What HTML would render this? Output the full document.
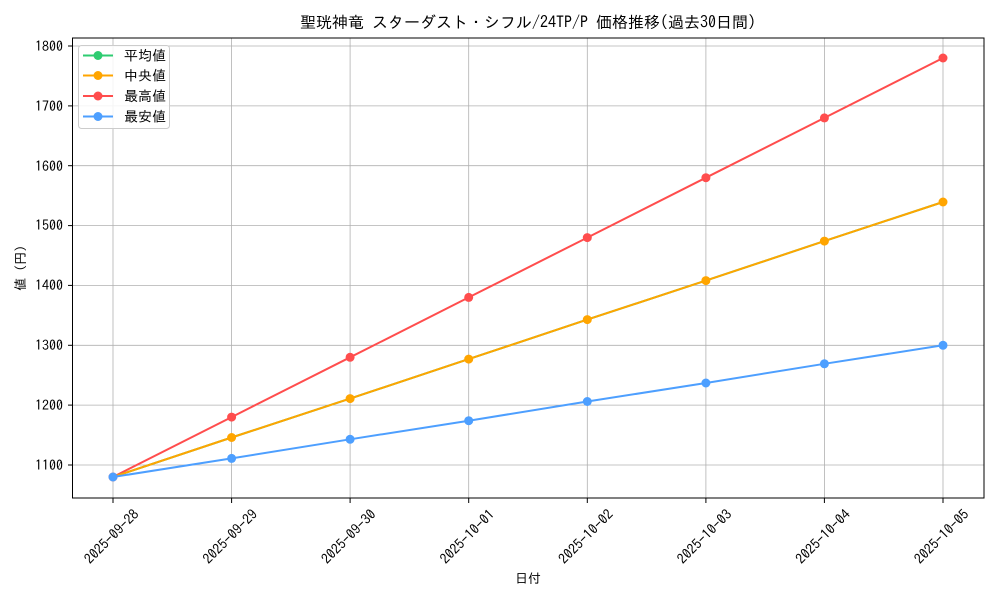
<!DOCTYPE html>
<html><head><meta charset="utf-8"><style>
body{margin:0;background:#fff}
svg{display:block;font-family:"IPAGothic","Noto Sans CJK JP",sans-serif}
</style></head><body>
<svg width="1000" height="600" viewBox="0 0 1000 600" xmlns="http://www.w3.org/2000/svg">
<rect width="1000" height="600" fill="#fff"/>
<g stroke="#b0b0b0" stroke-width="0.8">
<line x1="113" y1="38" x2="113" y2="498"/><line x1="231.6" y1="38" x2="231.6" y2="498"/><line x1="350.1" y1="38" x2="350.1" y2="498"/><line x1="468.7" y1="38" x2="468.7" y2="498"/><line x1="587.3" y1="38" x2="587.3" y2="498"/><line x1="705.9" y1="38" x2="705.9" y2="498"/><line x1="824.4" y1="38" x2="824.4" y2="498"/><line x1="943" y1="38" x2="943" y2="498"/>
<line x1="72.5" y1="465" x2="984" y2="465"/><line x1="72.5" y1="405.1" x2="984" y2="405.1"/><line x1="72.5" y1="345.3" x2="984" y2="345.3"/><line x1="72.5" y1="285.4" x2="984" y2="285.4"/><line x1="72.5" y1="225.6" x2="984" y2="225.6"/><line x1="72.5" y1="165.7" x2="984" y2="165.7"/><line x1="72.5" y1="105.9" x2="984" y2="105.9"/><line x1="72.5" y1="46" x2="984" y2="46"/>
</g>
<rect x="72.5" y="38" width="911.5" height="460" fill="none" stroke="#000" stroke-width="1"/>
<g stroke="#000"><line x1="68" y1="465" x2="72.5" y2="465"/><line x1="68" y1="405.1" x2="72.5" y2="405.1"/><line x1="68" y1="345.3" x2="72.5" y2="345.3"/><line x1="68" y1="285.4" x2="72.5" y2="285.4"/><line x1="68" y1="225.6" x2="72.5" y2="225.6"/><line x1="68" y1="165.7" x2="72.5" y2="165.7"/><line x1="68" y1="105.9" x2="72.5" y2="105.9"/><line x1="68" y1="46" x2="72.5" y2="46"/>
<line x1="113" y1="498" x2="113" y2="503"/><line x1="231.6" y1="498" x2="231.6" y2="503"/><line x1="350.1" y1="498" x2="350.1" y2="503"/><line x1="468.7" y1="498" x2="468.7" y2="503"/><line x1="587.3" y1="498" x2="587.3" y2="503"/><line x1="705.9" y1="498" x2="705.9" y2="503"/><line x1="824.4" y1="498" x2="824.4" y2="503"/><line x1="943" y1="498" x2="943" y2="503"/></g>
<g font-size="14" text-anchor="end" fill="#000">
<text x="63" y="470">1100</text><text x="63" y="410">1200</text><text x="63" y="350">1300</text><text x="63" y="290">1400</text><text x="63" y="230">1500</text><text x="63" y="171">1600</text><text x="63" y="111">1700</text><text x="63" y="51">1800</text></g>
<g font-size="14" text-anchor="middle" fill="#000">
<text transform="translate(115,540) rotate(-45)">2025-09-28</text>
<text transform="translate(233.6,540) rotate(-45)">2025-09-29</text>
<text transform="translate(352.1,540) rotate(-45)">2025-09-30</text>
<text transform="translate(470.7,540) rotate(-45)">2025-10-01</text>
<text transform="translate(589.3,540) rotate(-45)">2025-10-02</text>
<text transform="translate(707.9,540) rotate(-45)">2025-10-03</text>
<text transform="translate(826.4,540) rotate(-45)">2025-10-04</text>
<text transform="translate(945,540) rotate(-45)">2025-10-05</text>
</g>
<text x="528" y="583" font-size="13" text-anchor="middle">日付</text>
<text transform="translate(25,268) rotate(-90)" font-size="13" text-anchor="middle">値 (円)</text>
<text x="528" y="28" font-size="16" text-anchor="middle">聖珖神竜 スターダスト・シフル/24TP/P 価格推移(過去30日間)</text>
<g fill="none" stroke-width="2">
<polyline stroke="#ff4d4d" points="113,477 231.6,417.1 350.1,357.3 468.7,297.4 587.3,237.6 705.9,177.7 824.4,117.9 943,58"/>
<polyline stroke="#2ecc71" points="113,477 231.6,437.5 350.1,398.6 468.7,359.1 587.3,319.6 705.9,280.6 824.4,241.1 943,202"/>
<polyline stroke="#ffa500" points="113,477 231.6,437.5 350.1,398.6 468.7,359.1 587.3,319.6 705.9,280.6 824.4,241.1 943,202"/>
<polyline stroke="#4d9fff" points="113,477 231.6,458.4 350.1,439.3 468.7,420.7 587.3,401.5 705.9,383 824.4,363.8 943,345.3"/>
</g>
<g fill="#ff4d4d"><circle cx="113" cy="477" r="4.5"/><circle cx="231.6" cy="417.1" r="4.5"/><circle cx="350.1" cy="357.3" r="4.5"/><circle cx="468.7" cy="297.4" r="4.5"/><circle cx="587.3" cy="237.6" r="4.5"/><circle cx="705.9" cy="177.7" r="4.5"/><circle cx="824.4" cy="117.9" r="4.5"/><circle cx="943" cy="58" r="4.5"/></g>
<g fill="#ffa500"><circle cx="231.6" cy="437.5" r="4.5"/><circle cx="350.1" cy="398.6" r="4.5"/><circle cx="468.7" cy="359.1" r="4.5"/><circle cx="587.3" cy="319.6" r="4.5"/><circle cx="705.9" cy="280.6" r="4.5"/><circle cx="824.4" cy="241.1" r="4.5"/><circle cx="943" cy="202" r="4.5"/></g>
<g fill="#4d9fff"><circle cx="113" cy="477" r="4.5"/><circle cx="231.6" cy="458.4" r="4.5"/><circle cx="350.1" cy="439.3" r="4.5"/><circle cx="468.7" cy="420.7" r="4.5"/><circle cx="587.3" cy="401.5" r="4.5"/><circle cx="705.9" cy="383" r="4.5"/><circle cx="824.4" cy="363.8" r="4.5"/><circle cx="943" cy="345.3" r="4.5"/></g>
<rect x="78.5" y="45.5" width="91" height="83" rx="3" fill="#fff" fill-opacity="0.85" stroke="#ccc"/>
<g stroke-width="2">
<line x1="83" y1="55.5" x2="113" y2="55.5" stroke="#2ecc71"/><circle cx="98" cy="55.5" r="4.5" fill="#2ecc71"/>
<line x1="83" y1="75.5" x2="113" y2="75.5" stroke="#ffa500"/><circle cx="98" cy="75.5" r="4.5" fill="#ffa500"/>
<line x1="83" y1="96" x2="113" y2="96" stroke="#ff4d4d"/><circle cx="98" cy="96" r="4.5" fill="#ff4d4d"/>
<line x1="83" y1="116.5" x2="113" y2="116.5" stroke="#4d9fff"/><circle cx="98" cy="116.5" r="4.5" fill="#4d9fff"/>
</g>
<g font-size="14"><text x="124" y="60.5">平均値</text><text x="124" y="80.5">中央値</text><text x="124" y="101">最高値</text><text x="124" y="121.5">最安値</text></g>
</svg>
</body></html>
